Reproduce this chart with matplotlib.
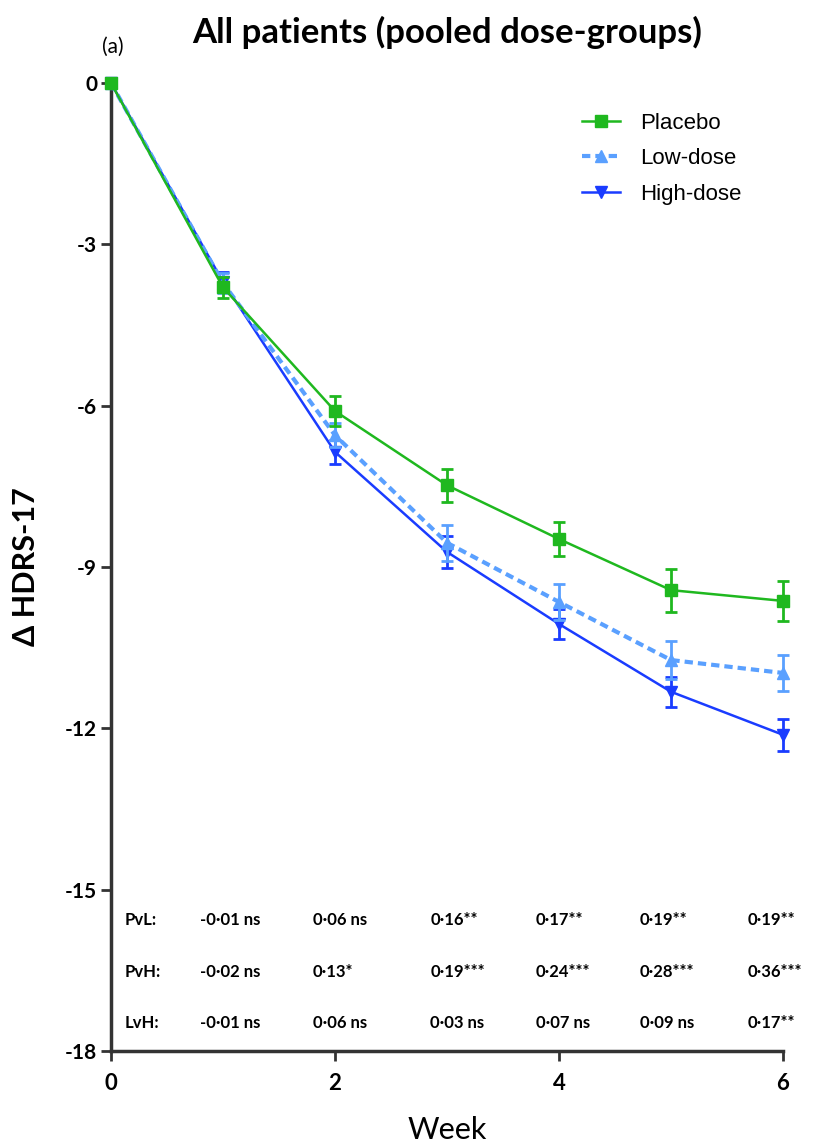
import matplotlib.pyplot as plt
from matplotlib.lines import Line2D
import numpy as np

weeks = [0, 1, 2, 3, 4, 5, 6]

placebo = [0.0, -3.80, -6.10, -7.48, -8.48, -9.43, -9.63]
placebo_err = [0.0, 0.20, 0.28, 0.31, 0.32, 0.40, 0.37]

low_dose = [0.0, -3.72, -6.55, -8.55, -9.65, -10.73, -10.97]
low_err = [0.0, 0.18, 0.22, 0.34, 0.33, 0.36, 0.33]

high_dose = [0.0, -3.70, -6.86, -8.72, -10.06, -11.32, -12.12]
high_err = [0.0, 0.18, 0.22, 0.30, 0.28, 0.28, 0.30]

row_labels = ['PvL:', 'PvH:', 'LvH:']
pvl = ['-0\u00b701 ns', '0\u00b706 ns', '0\u00b716**', '0\u00b717**', '0\u00b719**', '0\u00b719**']
pvh = ['-0\u00b702 ns', '0\u00b713*', '0\u00b719***', '0\u00b724***', '0\u00b728***', '0\u00b736***']
lvh = ['-0\u00b701 ns', '0\u00b706 ns', '0\u00b703 ns', '0\u00b707 ns', '0\u00b709 ns', '0\u00b717**']

GREEN = '#1fb81f'
LIGHT = '#5aa0ff'
BLUE = '#1a3cff'
AX = '#333333'


def main():
    fig = plt.figure(figsize=(8.2, 11.47), dpi=100)
    ax = fig.add_axes([0.1354, 0.0837, 0.8195, 0.8439])

    ax.errorbar(weeks, placebo, yerr=placebo_err, color=GREEN, marker='s',
                ms=8, lw=1.8, capsize=4, capthick=2, elinewidth=2,
                clip_on=False, zorder=5)
    ax.errorbar(weeks, low_dose, yerr=low_err, color=LIGHT, marker='^',
                ms=8, lw=3, ls=(0, (2, 1.2)), capsize=4, capthick=2,
                elinewidth=2, clip_on=False, zorder=4)
    ax.errorbar(weeks, high_dose, yerr=high_err, color=BLUE, marker='v',
                ms=8, lw=1.8, capsize=4, capthick=2, elinewidth=2,
                clip_on=False, zorder=3)

    ax.set_xlim(0, 6)
    ax.set_ylim(-18, 0)
    ax.set_xticks([0, 2, 4, 6])
    ax.set_yticks(np.arange(0, -19, -3))
    ax.set_yticklabels([str(v) for v in np.arange(0, -19, -3)])
    for s in ['top', 'right']:
        ax.spines[s].set_visible(False)
    for s in ['left', 'bottom']:
        ax.spines[s].set_linewidth(2.5)
        ax.spines[s].set_color(AX)
    ax.tick_params(direction='out', length=7, width=2, color=AX,
                   labelsize=15, pad=3)
    ax.tick_params(axis='x', pad=9, labelsize=16)
    for lab in ax.get_xticklabels() + ax.get_yticklabels():
        lab.set_fontweight('bold')
        lab.set_family('Lato')

    ax.set_ylabel('\u0394 HDRS-17', fontsize=22, fontweight='bold',
                  family='Lato', labelpad=18)
    ax.set_xlabel('Week', fontsize=22, family='Lato', labelpad=16)
    fig.text(0.545, 0.972, 'All patients (pooled dose-groups)', ha='center',
             va='center', fontsize=25, fontweight='bold', family='Lato')
    fig.text(0.138, 0.959, '(a)', ha='center', va='center', fontsize=15,
             family='Lato')

    handles = [
        Line2D([], [], color=GREEN, marker='s', ms=8, lw=1.8),
        Line2D([], [], color=LIGHT, marker='^', ms=8, lw=3, ls=(0, (2, 1.2))),
        Line2D([], [], color=BLUE, marker='v', ms=8, lw=1.8),
    ]
    ax.legend(handles, ['Placebo', 'Low-dose', 'High-dose'],
              loc='upper right', bbox_to_anchor=(0.968, 0.99),
              frameon=False, prop={'family': 'Liberation Sans', 'size': 16},
              handlelength=1.7, labelspacing=0.65, handletextpad=0.9)

    # p-value table
    rows_y = [-15.56, -16.53, -17.48]
    col_x = [0.79, 1.8, 2.85, 3.79, 4.72, 5.68]
    for y, name, vals in zip(rows_y, row_labels, [pvl, pvh, lvh]):
        ax.text(0.12, y, name, ha='left', va='center', fontsize=12,
                fontweight='bold', family='Lato')
        for x, v in zip(col_x, vals):
            ax.text(x, y, v, ha='left', va='center', fontsize=12,
                    fontweight='bold', family='Lato')

    fig.savefig('out.png', dpi=100)


if __name__ == '__main__':
    main()
